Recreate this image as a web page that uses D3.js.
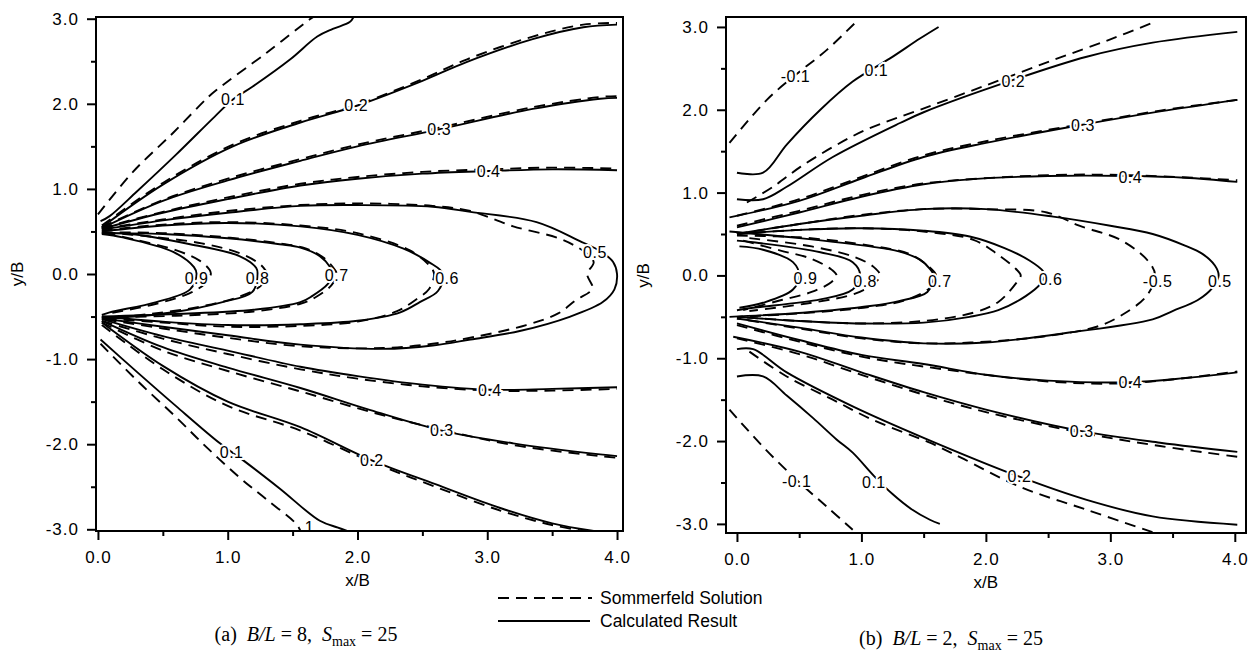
<!DOCTYPE html>
<html>
<head>
<meta charset="utf-8">
<script src="https://cdn.jsdelivr.net/npm/d3@7"></script>
<style>
  body { margin: 0; background: #fff; }
  svg text { font-family: "Liberation Sans", Arial, sans-serif; fill: #000; }
</style>
</head>
<body>
<svg id="chart" width="1251" height="652"></svg>
<script>
// tick values, both panels
var yMajor = [-3, -2, -1, 0, 1, 2, 3];
var yMinor = [-2.5, -1.5, -0.5, 0.5, 1.5, 2.5];
var xMajor = [0, 1, 2, 3, 4];
var xMinor = [0.5, 1.5, 2.5, 3.5];

// panel (a) B/L = 8 : calculated result (solid)
var aCalc = [
  [[0.02,0.62],[0.09,0.68],[0.3,0.97],[0.6,1.4],[0.9,1.85],[1.04,2.05],[1.19,2.2],[1.48,2.52],[1.69,2.79],[1.81,2.88],[1.94,2.96],[1.97,3.02]],
  [[0.02,-0.77],[0.3,-1.15],[0.6,-1.55],[0.94,-1.99],[1.12,-2.19],[1.4,-2.52],[1.71,-2.9],[1.85,-2.98],[1.92,-3.02]],
  [[0.03,0.55],[0.5,1.05],[1.04,1.5],[1.56,1.78],[2.0,1.98],[2.5,2.27],[2.84,2.49],[3.35,2.76],[3.74,2.9],[4.0,2.93]],
  [[0.03,-0.57],[0.5,-1.08],[1.0,-1.5],[1.56,-1.8],[2.11,-2.19],[2.6,-2.47],[3.1,-2.75],[3.5,-2.93],[3.82,-3.02]],
  [[0.03,0.54],[0.5,0.86],[1.0,1.1],[1.56,1.33],[2.0,1.5],[2.63,1.7],[3.35,1.94],[3.87,2.06],[4.0,2.07]],
  [[0.03,-0.55],[0.5,-0.86],[1.0,-1.1],[1.56,-1.34],[2.1,-1.6],[2.65,-1.84],[3.2,-1.99],[3.87,-2.12],[4.0,-2.14]],
  [[0.03,0.53],[0.5,0.72],[1.0,0.88],[1.56,1.04],[2.0,1.12],[2.5,1.18],[3.01,1.21],[3.5,1.23],[4.0,1.22]],
  [[0.03,-0.53],[0.5,-0.73],[1.0,-0.9],[1.56,-1.09],[2.0,-1.2],[2.5,-1.3],[3.02,-1.36],[3.5,-1.35],[4.0,-1.33]],
  [[0.03,0.52],[0.5,0.63],[1.0,0.72],[1.56,0.8],[2.0,0.81],[2.58,0.79],[2.87,0.73],[3.38,0.61],[3.71,0.39],[3.88,0.26],[3.97,0.14],[4.0,0.0],[3.98,-0.18],[3.89,-0.33],[3.64,-0.5],[3.25,-0.67],[2.87,-0.77],[2.58,-0.84],[2.2,-0.88],[1.56,-0.83],[1.0,-0.72],[0.5,-0.62],[0.03,-0.52]],
  [[0.03,0.5],[0.5,0.57],[1.0,0.6],[1.56,0.56],[2.0,0.46],[2.35,0.3],[2.55,0.14],[2.66,0.0],[2.62,-0.2],[2.48,-0.33],[2.33,-0.45],[2.0,-0.55],[1.56,-0.59],[1.0,-0.6],[0.5,-0.56],[0.03,-0.5]],
  [[0.03,0.48],[0.5,0.47],[1.0,0.42],[1.4,0.35],[1.56,0.31],[1.71,0.21],[1.79,0.08],[1.81,0.0],[1.77,-0.12],[1.65,-0.26],[1.56,-0.33],[1.2,-0.42],[0.6,-0.47],[0.03,-0.5]],
  [[0.03,0.48],[0.25,0.47],[0.71,0.35],[1.09,0.21],[1.22,0.07],[1.23,0.0],[1.19,-0.21],[0.96,-0.33],[0.58,-0.45],[0.19,-0.51],[0.03,-0.52]],
  [[0.03,0.47],[0.19,0.43],[0.58,0.26],[0.74,0.08],[0.76,0.0],[0.71,-0.18],[0.45,-0.33],[0.09,-0.45],[0.03,-0.48]]
];

// panel (a) : Sommerfeld solution (dashed)
var aSomm = [
  [[0.0,0.7],[0.27,1.2],[0.58,1.66],[0.85,2.08],[0.92,2.17],[1.3,2.6],[1.63,2.99],[1.66,3.02]],
  [[0.02,-0.82],[0.3,-1.25],[0.6,-1.68],[0.84,-2.04],[1.09,-2.39],[1.3,-2.65],[1.53,-2.94],[1.56,-3.02]],
  [[0.03,0.57],[0.5,1.07],[1.04,1.52],[1.56,1.8],[2.0,1.99],[2.5,2.29],[2.84,2.52],[3.35,2.79],[3.74,2.93],[4.0,2.95]],
  [[0.03,-0.6],[0.5,-1.12],[1.0,-1.55],[1.56,-1.84],[2.11,-2.21],[2.6,-2.5],[3.1,-2.78],[3.5,-2.95],[3.75,-3.02]],
  [[0.03,0.55],[0.5,0.87],[1.0,1.12],[1.56,1.35],[2.0,1.52],[2.63,1.72],[3.35,1.96],[3.87,2.08],[4.0,2.09]],
  [[0.03,-0.57],[0.5,-0.9],[1.0,-1.14],[1.56,-1.38],[2.1,-1.62],[2.65,-1.83],[3.2,-2.01],[3.87,-2.14],[4.0,-2.16]],
  [[0.03,0.54],[0.5,0.73],[1.0,0.9],[1.56,1.06],[2.0,1.14],[2.5,1.2],[3.01,1.23],[3.5,1.25],[4.0,1.24]],
  [[0.03,-0.55],[0.5,-0.76],[1.0,-0.94],[1.56,-1.12],[2.0,-1.23],[2.5,-1.32],[3.02,-1.37],[3.5,-1.37],[4.0,-1.35]],
  [[0.03,0.53],[0.5,0.64],[1.0,0.74],[1.56,0.81],[2.0,0.83],[2.58,0.8],[2.87,0.74],[3.2,0.56],[3.55,0.42],[3.74,0.27],[3.82,0.14],[3.77,0.0],[3.81,-0.17],[3.68,-0.31],[3.55,-0.46],[3.3,-0.6],[2.9,-0.74],[2.58,-0.82],[2.2,-0.87],[1.56,-0.85],[1.0,-0.75],[0.5,-0.64],[0.03,-0.53]],
  [[0.03,0.51],[0.5,0.58],[1.0,0.61],[1.56,0.57],[2.0,0.48],[2.4,0.28],[2.56,0.09],[2.59,0.0],[2.55,-0.18],[2.46,-0.29],[2.3,-0.44],[2.0,-0.56],[1.56,-0.61],[1.0,-0.62],[0.5,-0.57],[0.03,-0.52]],
  [[0.03,0.49],[0.5,0.48],[1.0,0.43],[1.4,0.36],[1.6,0.3],[1.74,0.19],[1.82,0.06],[1.84,0.0],[1.8,-0.13],[1.68,-0.27],[1.56,-0.35],[1.2,-0.44],[0.6,-0.49],[0.03,-0.51]],
  [[0.05,0.49],[0.4,0.44],[0.8,0.36],[1.1,0.24],[1.26,0.1],[1.3,0.0],[1.26,-0.13],[1.1,-0.26],[0.8,-0.38],[0.4,-0.47],[0.05,-0.52]],
  [[0.05,0.48],[0.3,0.4],[0.6,0.28],[0.78,0.16],[0.86,0.05],[0.87,0.0],[0.82,-0.12],[0.7,-0.23],[0.45,-0.35],[0.1,-0.46]]
];

var aLabels = [
  {t:"0.1", x:1.04, y:2.05}, {t:"0.1", x:1.03, y:-2.1}, {t:"1", x:1.63, y:-2.97},
  {t:"0.2", x:1.99, y:1.98}, {t:"0.2", x:2.11, y:-2.19},
  {t:"0.3", x:2.63, y:1.7}, {t:"0.3", x:2.65, y:-1.84},
  {t:"0.4", x:3.01, y:1.21}, {t:"0.4", x:3.02, y:-1.37},
  {t:"0.5", x:3.83, y:0.26}, {t:"0.6", x:2.69, y:-0.05},
  {t:"0.7", x:1.84, y:-0.01}, {t:"0.8", x:1.23, y:-0.05}, {t:"0.9", x:0.76, y:-0.05}
];

// panel (b) B/L = 2 : calculated result (solid)
var bCalc = [
  [[0.0,1.24],[0.21,1.24],[0.4,1.58],[0.67,2.0],[0.93,2.34],[1.23,2.62],[1.47,2.86],[1.62,3.0]],
  [[0.0,-1.22],[0.21,-1.22],[0.4,-1.45],[0.61,-1.72],[0.8,-1.98],[0.93,-2.14],[1.1,-2.42],[1.25,-2.64],[1.4,-2.82],[1.55,-2.95],[1.63,-3.0]],
  [[0.0,0.92],[0.21,0.92],[0.4,1.07],[0.77,1.43],[1.31,1.84],[1.5,1.97],[2.22,2.36],[2.81,2.64],[3.34,2.81],[4.02,2.94]],
  [[0.0,-0.89],[0.13,-0.89],[0.4,-1.17],[0.93,-1.58],[1.5,-1.96],[2.27,-2.43],[2.81,-2.71],[3.34,-2.91],[4.02,-3.01]],
  [[-0.06,0.7],[0.5,0.9],[1.0,1.17],[1.5,1.43],[2.0,1.6],[2.78,1.82],[3.4,1.98],[4.02,2.12]],
  [[-0.03,-0.74],[0.5,-0.92],[1.0,-1.17],[1.5,-1.41],[2.0,-1.62],[2.77,-1.88],[3.4,-2.02],[4.02,-2.13]],
  [[0.0,0.58],[0.5,0.76],[1.0,0.95],[1.5,1.1],[1.87,1.16],[2.5,1.2],[3.16,1.2],[3.6,1.18],[4.02,1.13]],
  [[0.0,-0.58],[0.5,-0.78],[1.0,-0.96],[1.5,-1.07],[2.0,-1.2],[2.5,-1.27],[3.16,-1.29],[3.6,-1.24],[4.02,-1.17]],
  [[0.0,0.5],[0.5,0.62],[1.0,0.72],[1.5,0.8],[2.0,0.8],[2.54,0.71],[3.0,0.6],[3.34,0.5],[3.6,0.36],[3.74,0.26],[3.84,0.12],[3.87,0.0],[3.82,-0.15],[3.7,-0.3],[3.5,-0.43],[3.34,-0.53],[2.67,-0.69],[2.0,-0.81],[1.5,-0.82],[1.0,-0.75],[0.5,-0.63],[0.0,-0.52]],
  [[0.0,0.5],[0.5,0.55],[1.0,0.57],[1.5,0.54],[1.87,0.47],[2.15,0.33],[2.35,0.18],[2.46,0.05],[2.47,0.0],[2.44,-0.1],[2.32,-0.25],[2.1,-0.42],[1.87,-0.5],[1.5,-0.57],[1.0,-0.58],[0.5,-0.55],[0.0,-0.5]],
  [[-0.06,0.53],[0.5,0.45],[1.07,0.35],[1.3,0.29],[1.47,0.19],[1.55,0.08],[1.58,0.0],[1.53,-0.2],[1.3,-0.31],[1.07,-0.37],[0.53,-0.45],[-0.06,-0.5]],
  [[0.0,0.42],[0.13,0.4],[0.67,0.28],[0.93,0.16],[0.99,0.0],[0.93,-0.17],[0.67,-0.29],[0.13,-0.39],[0.0,-0.42]],
  [[0.02,0.35],[0.21,0.31],[0.45,0.16],[0.5,0.0],[0.45,-0.17],[0.21,-0.33],[0.02,-0.39]]
];

// panel (b) : Sommerfeld solution (dashed)
var bSomm = [
  [[-0.06,1.6],[0.24,2.12],[0.47,2.42],[0.72,2.72],[0.97,3.08]],
  [[-0.06,-1.62],[0.21,-2.07],[0.48,-2.47],[0.72,-2.79],[0.93,-3.07]],
  [[0.08,0.88],[0.29,1.07],[0.51,1.31],[0.77,1.55],[1.04,1.76],[1.47,2.0],[2.01,2.3],[2.54,2.6],[3.0,2.85],[3.34,3.05]],
  [[0.1,-0.92],[0.4,-1.22],[0.77,-1.5],[1.1,-1.75],[1.55,-2.02],[1.8,-2.2],[2.27,-2.55],[2.81,-2.83],[3.34,-3.1]],
  [[0.0,0.72],[0.5,0.92],[1.0,1.19],[1.5,1.45],[2.0,1.62],[2.78,1.83],[3.4,1.99],[4.02,2.12]],
  [[0.0,-0.76],[0.5,-0.95],[1.0,-1.2],[1.5,-1.44],[2.0,-1.65],[2.77,-1.9],[3.4,-2.06],[4.02,-2.19]],
  [[0.0,0.6],[0.5,0.78],[1.0,0.97],[1.5,1.11],[2.5,1.21],[3.16,1.21],[4.02,1.15]],
  [[0.0,-0.6],[0.5,-0.8],[1.0,-0.98],[1.5,-1.1],[2.5,-1.28],[3.16,-1.3],[4.02,-1.16]],
  [[0.0,0.5],[0.5,0.62],[1.0,0.73],[1.5,0.8],[2.0,0.8],[2.49,0.76],[2.75,0.6],[3.08,0.43],[3.3,0.18],[3.36,0.0],[3.29,-0.25],[3.08,-0.49],[2.89,-0.62],[2.5,-0.73],[2.0,-0.8],[1.5,-0.82],[1.0,-0.76],[0.5,-0.64],[0.0,-0.52]],
  [[0.0,0.5],[0.5,0.55],[1.0,0.57],[1.5,0.53],[1.9,0.43],[2.08,0.27],[2.24,0.08],[2.28,0.0],[2.24,-0.1],[2.1,-0.32],[1.9,-0.45],[1.5,-0.55],[1.0,-0.58],[0.5,-0.55],[0.0,-0.5]],
  [[0.0,0.48],[0.5,0.46],[1.07,0.36],[1.4,0.25],[1.56,0.08],[1.6,0.0],[1.55,-0.15],[1.35,-0.3],[1.07,-0.38],[0.5,-0.46],[0.0,-0.5]],
  [[0.1,0.45],[0.6,0.35],[0.95,0.22],[1.1,0.1],[1.15,0.0],[1.1,-0.1],[0.95,-0.22],[0.6,-0.33],[0.1,-0.43]],
  [[0.05,0.42],[0.35,0.3],[0.6,0.2],[0.76,0.07],[0.8,0.0],[0.76,-0.08],[0.6,-0.2],[0.35,-0.3],[0.05,-0.42]]
];

var bLabels = [
  {t:"-0.1", x:0.47, y:2.4}, {t:"0.1", x:1.12, y:2.48},
  {t:"0.2", x:2.22, y:2.35}, {t:"0.3", x:2.78, y:1.81}, {t:"0.4", x:3.16, y:1.19},
  {t:"0.9", x:0.55, y:-0.04}, {t:"0.8", x:1.03, y:-0.07}, {t:"0.7", x:1.63, y:-0.07},
  {t:"0.6", x:2.52, y:-0.05}, {t:"-0.5", x:3.38, y:-0.07}, {t:"0.5", x:3.88, y:-0.07},
  {t:"0.4", x:3.16, y:-1.29}, {t:"0.3", x:2.77, y:-1.88}, {t:"0.2", x:2.27, y:-2.43},
  {t:"-0.1", x:0.48, y:-2.48}, {t:"0.1", x:1.1, y:-2.5}
];

var svg = d3.select("#chart");

function drawPanel(id, box, xDom, yDom, calc, somm, labels, caption) {
  var x = d3.scaleLinear().domain(xDom).range([box.left, box.right]);
  var y = d3.scaleLinear().domain(yDom).range([box.bottom, box.top]);
  var g = svg.append("g");

  g.append("clipPath").attr("id", "clip" + id)
    .append("rect")
    .attr("x", box.left).attr("y", box.top)
    .attr("width", box.right - box.left).attr("height", box.bottom - box.top);

  var line = d3.line()
    .x(function(d) { return x(d[0]); })
    .y(function(d) { return y(d[1]); })
    .curve(d3.curveCatmullRom.alpha(0.5));

  var plot = g.append("g").attr("clip-path", "url(#clip" + id + ")");

  plot.selectAll(".somm").data(somm).enter().append("path")
    .attr("class", "somm")
    .attr("d", line)
    .attr("fill", "none").attr("stroke", "#000")
    .attr("stroke-width", 1.9).attr("stroke-dasharray", "11,7");

  plot.selectAll(".calc").data(calc).enter().append("path")
    .attr("class", "calc")
    .attr("d", line)
    .attr("fill", "none").attr("stroke", "#000")
    .attr("stroke-width", 1.9);

  // contour labels, white halo breaks the line under them
  plot.selectAll(".lbl").data(labels).enter().append("text")
    .attr("class", "lbl")
    .attr("x", function(d) { return x(d.x); })
    .attr("y", function(d) { return y(d.y); })
    .attr("dy", "0.36em")
    .attr("text-anchor", "middle")
    .attr("font-size", 16)
    .attr("letter-spacing", 0.5)
    .attr("stroke", "#fff").attr("stroke-width", 4)
    .attr("paint-order", "stroke")
    .text(function(d) { return d.t; });

  // frame
  g.append("rect")
    .attr("x", box.left).attr("y", box.top)
    .attr("width", box.right - box.left).attr("height", box.bottom - box.top)
    .attr("fill", "none").attr("stroke", "#000").attr("stroke-width", 2);

  var fmt = function(d) { return d.toFixed(1); };

  g.append("g").attr("transform", "translate(" + box.left + ",0)")
    .call(d3.axisLeft(y).tickValues(yMajor).tickFormat(fmt).tickSize(9).tickPadding(8));
  g.append("g").attr("transform", "translate(" + box.left + ",0)")
    .call(d3.axisLeft(y).tickValues(yMinor).tickFormat("").tickSize(5));

  g.append("g").attr("transform", "translate(0," + box.bottom + ")")
    .call(d3.axisBottom(x).tickValues(xMajor).tickFormat(fmt).tickSize(9).tickPadding(11));
  g.append("g").attr("transform", "translate(0," + box.bottom + ")")
    .call(d3.axisBottom(x).tickValues(xMinor).tickFormat("").tickSize(5));

  g.selectAll(".domain").remove();
  g.selectAll(".tick line").attr("stroke", "#000").attr("stroke-width", 2);
  g.selectAll(".tick text")
    .attr("font-family", "Liberation Sans, Arial, sans-serif")
    .attr("font-size", 17).attr("letter-spacing", 1).attr("fill", "#000");

  g.append("text")
    .attr("x", x(2)).attr("y", box.bottom + 55)
    .attr("text-anchor", "middle").attr("font-size", 17)
    .text("x/B");

  g.append("text")
    .attr("transform", "translate(" + caption.yLabX + "," + y(0) + ") rotate(-90)")
    .attr("text-anchor", "middle").attr("dy", "0.35em").attr("font-size", 17)
    .text("y/B");

  var cap = g.append("text")
    .attr("x", caption.x).attr("y", caption.y)
    .attr("text-anchor", "middle")
    .style("font-family", "'Liberation Serif', 'Times New Roman', serif")
    .attr("font-size", 20);
  cap.append("tspan").text("(" + caption.tag + ")\u00a0\u00a0");
  cap.append("tspan").attr("font-style", "italic").text("B/L");
  cap.append("tspan").text("\u00a0= " + caption.ratio + ",\u00a0\u00a0");
  cap.append("tspan").attr("font-style", "italic").text("S");
  cap.append("tspan").attr("font-size", 14).attr("dy", 5).text("max");
  cap.append("tspan").attr("dy", -5).text("\u00a0= " + caption.smax);
}

drawPanel("a", {left: 96, right: 623, top: 17, bottom: 531},
  [-0.015, 4.046], [-3.02, 3.02], aCalc, aSomm, aLabels,
  {tag: "a", ratio: 8, smax: 25, x: 306, y: 641, yLabX: 17});

drawPanel("b", {left: 726, right: 1246, top: 17, bottom: 533},
  [-0.088, 4.09], [-3.11, 3.12], bCalc, bSomm, bLabels,
  {tag: "b", ratio: 2, smax: 25, x: 951, y: 645, yLabX: 643});

// legend
var legend = svg.append("g");
legend.append("line")
  .attr("x1", 498).attr("x2", 592).attr("y1", 598).attr("y2", 598)
  .attr("stroke", "#000").attr("stroke-width", 1.9).attr("stroke-dasharray", "11,7");
legend.append("line")
  .attr("x1", 498).attr("x2", 590).attr("y1", 621).attr("y2", 621)
  .attr("stroke", "#000").attr("stroke-width", 1.9);
legend.append("text").attr("x", 600).attr("y", 604).attr("font-size", 17.5).text("Sommerfeld Solution");
legend.append("text").attr("x", 600).attr("y", 627).attr("font-size", 17.5).text("Calculated Result");
</script>
</body>
</html>
